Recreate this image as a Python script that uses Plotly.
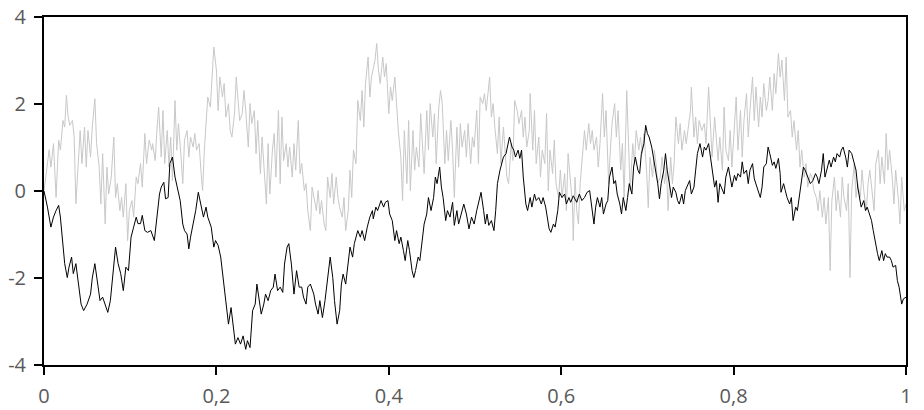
"""Two sample paths on [0, 1]: a smooth Brownian path (black) and a noisy one (grey)."""

import plotly.graph_objects as go

# ── Data ─────────────────────────────────────────────────────────────────────
black_t = [
    0.0, 0.004, 0.008, 0.011, 0.014, 0.017, 0.019, 0.022, 0.024, 0.027, 0.029, 0.032, 0.034, 0.037,
    0.040, 0.043, 0.046, 0.050, 0.054, 0.056, 0.059, 0.062, 0.065, 0.068, 0.071, 0.074, 0.077, 0.080,
    0.083, 0.086, 0.089, 0.092, 0.095, 0.098, 0.101, 0.104, 0.107, 0.109, 0.112, 0.114, 0.117, 0.120,
    0.124, 0.128, 0.131, 0.134, 0.136, 0.139, 0.141, 0.144, 0.146, 0.149, 0.152, 0.155, 0.158, 0.161,
    0.163, 0.166, 0.168, 0.170, 0.173, 0.176, 0.179, 0.182, 0.185, 0.188, 0.190, 0.194, 0.197, 0.199,
    0.202, 0.205, 0.208, 0.211, 0.214, 0.217, 0.220, 0.222, 0.225, 0.228, 0.231, 0.234, 0.236, 0.239,
    0.242, 0.245, 0.247, 0.249, 0.252, 0.255, 0.257, 0.260, 0.263, 0.266, 0.268, 0.271, 0.274, 0.277,
    0.279, 0.282, 0.284, 0.287, 0.290, 0.293, 0.296, 0.299, 0.301, 0.304, 0.306, 0.309, 0.313, 0.315,
    0.318, 0.320, 0.323, 0.326, 0.329, 0.332, 0.335, 0.337, 0.340, 0.343, 0.345, 0.347, 0.350, 0.353,
    0.355, 0.358, 0.360, 0.364, 0.367, 0.369, 0.372, 0.375, 0.378, 0.381, 0.382, 0.385, 0.387, 0.391,
    0.394, 0.396, 0.399, 0.401, 0.404, 0.407, 0.409, 0.412, 0.414, 0.417, 0.419, 0.422, 0.424, 0.427,
    0.429, 0.431, 0.434, 0.436, 0.439, 0.441, 0.444, 0.446, 0.449, 0.452, 0.454, 0.456, 0.459, 0.461,
    0.463, 0.466, 0.468, 0.471, 0.474, 0.476, 0.479, 0.481, 0.484, 0.487, 0.490, 0.493, 0.496, 0.499,
    0.502, 0.504, 0.507, 0.510, 0.512, 0.514, 0.516, 0.519, 0.522, 0.524, 0.526, 0.529, 0.531, 0.533,
    0.536, 0.538, 0.540, 0.543, 0.545, 0.547, 0.550, 0.552, 0.554, 0.556, 0.559, 0.561, 0.564, 0.566,
    0.569, 0.571, 0.574, 0.577, 0.579, 0.582, 0.584, 0.586, 0.588, 0.591, 0.593, 0.596, 0.598, 0.601,
    0.604, 0.606, 0.609, 0.611, 0.614, 0.618, 0.621, 0.624, 0.627, 0.630, 0.633, 0.636, 0.638, 0.640,
    0.642, 0.645, 0.647, 0.649, 0.652, 0.654, 0.656, 0.659, 0.661, 0.663, 0.665, 0.668, 0.670, 0.672,
    0.675, 0.677, 0.679, 0.682, 0.684, 0.686, 0.689, 0.691, 0.693, 0.696, 0.698, 0.700, 0.702, 0.705,
    0.707, 0.709, 0.712, 0.714, 0.716, 0.719, 0.721, 0.723, 0.726, 0.728, 0.730, 0.733, 0.735, 0.737,
    0.740, 0.742, 0.744, 0.747, 0.749, 0.751, 0.754, 0.756, 0.758, 0.761, 0.764, 0.766, 0.768, 0.771,
    0.773, 0.775, 0.778, 0.780, 0.782, 0.784, 0.787, 0.789, 0.791, 0.794, 0.796, 0.798, 0.801, 0.803,
    0.805, 0.808, 0.810, 0.812, 0.815, 0.817, 0.819, 0.822, 0.824, 0.826, 0.829, 0.831, 0.833, 0.835,
    0.838, 0.840, 0.842, 0.845, 0.847, 0.849, 0.852, 0.854, 0.855, 0.858, 0.860, 0.862, 0.865, 0.867,
    0.869, 0.872, 0.874, 0.876, 0.879, 0.881, 0.883, 0.886, 0.889, 0.892, 0.895, 0.897, 0.899, 0.902,
    0.904, 0.906, 0.909, 0.911, 0.913, 0.916, 0.918, 0.920, 0.923, 0.925, 0.927, 0.930, 0.932, 0.934,
    0.937, 0.939, 0.942, 0.944, 0.946, 0.948, 0.951, 0.953, 0.955, 0.958, 0.960, 0.962, 0.964, 0.967,
    0.969, 0.972, 0.974, 0.976, 0.978, 0.981, 0.983, 0.985, 0.988, 0.990, 0.992, 0.995, 0.997, 1.0,
]
black_v = [
    0.0, -0.37, -0.83, -0.60, -0.45, -0.33, -0.60, -1.21, -1.67, -1.99, -1.75, -1.52, -1.90, -1.67,
    -2.13, -2.60, -2.75, -2.60, -2.37, -2.00, -1.67, -2.13, -2.52, -2.44, -2.60, -2.79, -2.52, -1.90,
    -1.29, -1.67, -1.90, -2.29, -1.75, -1.83, -1.06, -0.83, -0.60, -0.75, -0.75, -0.56, -0.91, -0.95,
    -0.91, -1.14, -0.60, -0.07, 0.09, 0.20, -0.18, -0.15, 0.63, 0.78, 0.32, 0.01, -0.22, -0.76,
    -0.91, -0.99, -1.33, -1.06, -0.76, -0.45, -0.03, -0.30, -0.60, -0.37, -0.60, -0.83, -1.29, -1.14,
    -1.25, -1.52, -1.99, -2.52, -3.06, -2.68, -3.21, -3.52, -3.37, -3.52, -3.33, -3.64, -3.44, -3.60,
    -2.75, -2.60, -2.14, -2.44, -2.83, -2.60, -2.37, -2.52, -2.29, -2.21, -1.91, -2.29, -2.21, -2.33,
    -1.68, -1.29, -1.21, -1.68, -2.37, -1.83, -2.21, -2.21, -2.44, -2.60, -2.21, -2.14, -2.37, -2.60,
    -2.83, -2.52, -2.91, -2.52, -2.06, -1.52, -1.99, -2.52, -3.06, -2.75, -2.14, -1.91, -2.14, -1.68,
    -1.29, -1.52, -1.21, -0.91, -1.06, -0.91, -1.14, -0.83, -0.60, -0.45, -0.64, -0.37, -0.45, -0.22,
    -0.37, -0.26, -0.22, -0.53, -0.68, -1.14, -0.91, -1.21, -1.06, -1.37, -1.60, -1.14, -1.37, -1.83,
    -1.99, -1.83, -1.52, -1.60, -1.14, -0.76, -0.53, -0.15, -0.45, -0.15, 0.32, 0.17, 0.55, 0.09,
    -0.15, -0.68, -0.45, -0.60, -0.26, -0.79, -0.45, -0.76, -0.53, -0.30, -0.53, -0.87, -0.60, -0.76,
    -0.45, -0.30, -0.03, -0.45, -0.76, -0.53, -0.79, -0.68, -0.91, -0.45, 0.17, 0.48, 0.63, 0.78,
    0.86, 1.09, 1.24, 1.01, 0.94, 0.78, 0.94, 0.75, 0.94, 0.32, -0.30, -0.45, -0.15, -0.37,
    -0.07, -0.22, -0.15, -0.30, -0.15, -0.37, -0.68, -0.87, -0.95, -0.76, -0.83, -0.45, -0.03, -0.15,
    -0.07, -0.30, -0.15, -0.26, -0.11, -0.26, -0.07, -0.22, -0.15, -0.03, 0.01, -0.53, -0.76, -0.37,
    -0.15, -0.37, -0.15, -0.53, -0.30, -0.22, 0.32, 0.55, 0.17, 0.24, -0.07, -0.30, -0.53, -0.15,
    -0.45, -0.15, 0.17, -0.07, 0.55, 0.78, 0.48, 0.40, 0.86, 1.09, 1.51, 1.32, 1.24, 1.01,
    0.78, 0.48, 0.17, -0.18, 0.17, 0.48, 0.86, 0.48, 0.09, -0.15, 0.09, -0.03, -0.22, -0.30,
    -0.07, -0.30, 0.01, 0.17, 0.24, -0.07, 0.09, 0.48, 0.86, 1.09, 0.78, 1.01, 0.94, 1.09,
    0.78, 0.48, 0.09, 0.24, -0.26, 0.17, 0.01, -0.07, 0.32, 0.55, 0.32, 0.09, 0.36, 0.24,
    0.40, 0.32, 0.67, 0.40, 0.48, 0.17, 0.48, 0.63, 0.28, 0.17, 0.01, -0.15, 0.09, 0.55,
    0.63, 1.01, 0.86, 0.59, 0.67, 0.52, 0.75, 0.40, -0.03, 0.17, 0.01, -0.15, -0.30, -0.15,
    -0.68, -0.37, -0.45, -0.15, 0.32, 0.55, 0.48, 0.32, 0.17, 0.24, 0.40, 0.32, 0.17, 0.48,
    0.86, 0.32, 0.55, 0.71, 0.55, 0.78, 0.67, 0.86, 0.78, 0.94, 1.01, 0.78, 0.55, 0.94,
    0.86, 0.71, 0.48, 0.09, -0.15, -0.37, -0.22, -0.45, -0.37, -0.53, -0.68, -0.91, -1.14, -1.44,
    -1.60, -1.37, -1.60, -1.44, -1.52, -1.52, -1.60, -1.75, -1.71, -2.06, -2.21, -2.60, -2.48, -2.44,
]

grey_t = [
    0.0, 0.004, 0.006, 0.008, 0.011, 0.014, 0.017, 0.019, 0.022, 0.024, 0.026, 0.028, 0.030, 0.033,
    0.035, 0.037, 0.040, 0.042, 0.044, 0.047, 0.049, 0.051, 0.054, 0.056, 0.059, 0.061, 0.064, 0.066,
    0.068, 0.071, 0.073, 0.075, 0.078, 0.081, 0.083, 0.085, 0.088, 0.090, 0.092, 0.095, 0.097, 0.099,
    0.102, 0.104, 0.107, 0.109, 0.112, 0.114, 0.117, 0.119, 0.122, 0.125, 0.126, 0.129, 0.131, 0.133,
    0.136, 0.138, 0.140, 0.143, 0.145, 0.147, 0.149, 0.152, 0.154, 0.156, 0.159, 0.161, 0.163, 0.166,
    0.168, 0.170, 0.173, 0.175, 0.177, 0.180, 0.182, 0.184, 0.186, 0.188, 0.190, 0.193, 0.195, 0.197,
    0.200, 0.202, 0.204, 0.207, 0.209, 0.211, 0.214, 0.216, 0.218, 0.221, 0.223, 0.225, 0.227, 0.230,
    0.232, 0.234, 0.237, 0.239, 0.241, 0.244, 0.246, 0.248, 0.251, 0.253, 0.256, 0.258, 0.260, 0.262,
    0.265, 0.267, 0.269, 0.272, 0.274, 0.276, 0.278, 0.281, 0.283, 0.285, 0.288, 0.290, 0.292, 0.295,
    0.297, 0.299, 0.302, 0.304, 0.306, 0.309, 0.311, 0.313, 0.316, 0.318, 0.320, 0.322, 0.325, 0.327,
    0.329, 0.332, 0.334, 0.336, 0.339, 0.341, 0.343, 0.346, 0.348, 0.350, 0.353, 0.355, 0.357, 0.359,
    0.362, 0.364, 0.367, 0.369, 0.371, 0.373, 0.376, 0.378, 0.380, 0.384, 0.386, 0.388, 0.390, 0.393,
    0.395, 0.397, 0.400, 0.402, 0.404, 0.407, 0.409, 0.411, 0.414, 0.416, 0.418, 0.421, 0.423, 0.425,
    0.428, 0.430, 0.432, 0.435, 0.437, 0.439, 0.441, 0.444, 0.446, 0.448, 0.451, 0.453, 0.455, 0.458,
    0.460, 0.462, 0.465, 0.467, 0.469, 0.472, 0.474, 0.476, 0.479, 0.481, 0.483, 0.485, 0.488, 0.490,
    0.492, 0.495, 0.497, 0.499, 0.502, 0.504, 0.506, 0.509, 0.511, 0.513, 0.516, 0.517, 0.519, 0.521,
    0.523, 0.526, 0.528, 0.530, 0.533, 0.535, 0.537, 0.539, 0.542, 0.544, 0.546, 0.549, 0.551, 0.554,
    0.556, 0.558, 0.560, 0.563, 0.564, 0.567, 0.569, 0.571, 0.574, 0.576, 0.578, 0.581, 0.583, 0.585,
    0.587, 0.590, 0.592, 0.594, 0.597, 0.599, 0.601, 0.604, 0.606, 0.608, 0.611, 0.613, 0.614, 0.616,
    0.618, 0.620, 0.622, 0.625, 0.627, 0.629, 0.632, 0.634, 0.636, 0.638, 0.641, 0.643, 0.645, 0.648,
    0.650, 0.652, 0.655, 0.657, 0.659, 0.662, 0.664, 0.666, 0.669, 0.671, 0.673, 0.676, 0.678, 0.680,
    0.683, 0.685, 0.687, 0.690, 0.692, 0.694, 0.696, 0.699, 0.701, 0.703, 0.706, 0.708, 0.710, 0.712,
    0.715, 0.717, 0.720, 0.722, 0.724, 0.727, 0.729, 0.731, 0.733, 0.736, 0.738, 0.740, 0.743, 0.745,
    0.747, 0.750, 0.751, 0.754, 0.756, 0.758, 0.760, 0.763, 0.766, 0.768, 0.771, 0.773, 0.775, 0.778,
    0.780, 0.782, 0.784, 0.787, 0.789, 0.791, 0.794, 0.796, 0.798, 0.801, 0.803, 0.805, 0.808, 0.810,
    0.812, 0.815, 0.817, 0.819, 0.822, 0.824, 0.826, 0.829, 0.831, 0.833, 0.835, 0.838, 0.840, 0.842,
    0.845, 0.847, 0.849, 0.852, 0.854, 0.856, 0.859, 0.861, 0.863, 0.866, 0.868, 0.870, 0.873, 0.875,
    0.877, 0.879, 0.882, 0.884, 0.886, 0.889, 0.891, 0.893, 0.896, 0.898, 0.900, 0.903, 0.905, 0.907,
    0.910, 0.912, 0.914, 0.917, 0.919, 0.921, 0.924, 0.926, 0.928, 0.931, 0.933, 0.935, 0.937, 0.940,
    0.942, 0.944, 0.947, 0.949, 0.951, 0.954, 0.956, 0.958, 0.961, 0.963, 0.965, 0.968, 0.970, 0.972,
    0.975, 0.977, 0.979, 0.981, 0.984, 0.986, 0.988, 0.991, 0.993, 0.995, 0.998, 1.0,
]
grey_v = [
    0.0, 0.70, 0.95, 0.55, 1.09, -0.15, 1.17, 0.94, 1.62, 1.47, 2.20, 1.70, 1.51, 1.62,
    1.24, -0.29, 0.78, 1.39, 0.63, 1.47, 0.55, 1.39, 0.78, 1.47, 2.12, 1.09, 0.55, -0.30,
    0.86, -0.76, 0.55, -0.07, 0.32, 1.24, -0.15, 0.17, -0.45, -0.15, -0.60, 0.17, -1.14, -0.45,
    -0.22, -0.60, 0.32, 0.17, 0.63, 0.09, 1.32, 0.63, 1.17, 0.94, 1.09, 0.70, 1.39, 1.93,
    0.78, 1.85, 0.63, 1.39, 0.55, 1.24, 0.24, 2.08, 0.94, 1.55, 0.78, 0.17, 1.17, 1.39,
    0.78, 1.24, 1.01, 1.32, 0.94, 1.09, 0.48, 0.01, 0.94, 1.47, 2.16, 1.93, 2.62, 3.31,
    2.78, 1.85, 2.62, 2.16, 2.47, 1.70, 2.01, 1.39, 1.24, 1.78, 2.62, 2.01, 1.62, 1.78,
    2.31, 1.85, 1.01, 2.01, 1.55, 1.85, 0.86, 1.62, 0.40, 1.24, 0.32, -0.30, 1.09, -0.07,
    0.94, 1.32, 0.32, 1.85, 0.17, 1.70, 0.70, 1.09, 0.55, 1.01, 0.32, 1.09, 0.48, 1.62,
    0.40, 0.63, 0.01, 0.17, -0.45, -0.91, 0.09, -0.15, -0.45, 0.01, -0.53, -0.22, -0.76, -0.91,
    0.32, -0.15, 0.40, -0.30, 0.32, -0.15, -0.38, -0.60, -0.15, -0.91, -0.45, 0.48, -0.15, 0.94,
    0.63, 2.08, 1.62, 2.31, 1.47, 2.47, 3.08, 2.16, 2.62, 3.01, 3.39, 2.78, 2.47, 3.08,
    2.62, 2.93, 1.78, 2.39, 2.08, 2.62, 2.01, 1.39, 0.78, -0.22, 1.39, 0.17, 1.62, 0.01,
    1.39, 0.48, 1.01, 0.55, 1.78, 0.94, 0.40, 1.85, 0.94, 2.01, 1.24, 1.78, 0.63, 1.93,
    2.31, 2.01, 0.63, 1.39, 0.70, 1.62, 0.94, -0.15, 1.47, 0.55, 1.55, 1.01, 1.39, 0.78,
    1.55, 0.63, 1.24, 1.01, 1.85, 0.63, 2.16, 2.01, 2.24, 1.85, 2.47, 2.62, 1.70, 2.01,
    1.47, 0.86, 1.70, 0.63, 1.47, 0.78, 0.32, 0.17, 1.09, 0.70, 2.08, 1.85, 1.55, 1.85,
    1.24, 1.70, 1.01, 1.39, 2.24, 0.94, 1.85, 0.63, 1.24, 0.32, 0.94, 0.63, 1.78, 0.01,
    0.94, 0.40, 1.17, 0.17, -0.15, 0.48, -0.15, 0.40, -0.45, 0.86, 0.17, -0.30, -1.14, 0.32,
    -0.45, -0.76, 0.17, 0.94, 1.39, 0.94, 1.55, 1.09, 1.39, 0.94, 1.24, 0.55, 1.09, 2.24,
    1.24, 1.85, 0.17, 0.94, 1.55, 2.01, 1.24, 1.85, 0.48, 1.09, -0.15, 2.31, 0.94, 0.01,
    1.09, 0.63, 1.39, 0.94, 1.24, 0.86, 1.32, 0.48, -0.38, 0.78, 0.32, 0.94, 0.63, 0.17,
    0.32, 0.78, 0.17, 0.55, -0.45, 0.78, 0.17, 0.63, 1.70, 1.09, 1.55, 0.94, 1.39, 1.09,
    1.39, 1.85, 2.39, 1.24, 1.70, 1.09, 1.62, 1.39, 1.55, 1.09, 2.39, 1.55, 0.78, 1.70,
    1.09, 0.70, 1.24, 0.48, 1.93, 0.94, 0.70, 1.39, 0.55, 1.47, 2.16, 0.94, 1.85, 0.78,
    1.62, 2.24, 1.24, 1.85, 2.62, 1.62, 2.39, 1.47, 2.16, 1.70, 2.47, 1.85, 2.08, 2.62,
    1.85, 2.70, 2.24, 3.16, 2.62, 3.01, 2.08, 3.08, 1.70, 1.85, 1.24, 1.62, 0.94, 1.39,
    0.55, 0.94, 0.32, 0.63, 0.09, 0.40, 0.32, 0.01, -0.15, -0.45, 0.01, -0.60, -0.15, -0.76,
    -0.15, -1.83, -0.22, 0.32, -0.45, 0.01, -0.60, 0.32, -0.15, -0.45, 0.17, -1.99, 0.01, 0.63,
    -0.15, 0.17, -0.15, 0.48, 0.01, -0.45, 0.17, 0.48, -0.15, -0.45, 0.63, 0.94, 0.17, 0.78,
    0.17, 1.32, 0.48, 0.94, 0.32, -0.30, 0.48, -0.15, -0.76, 0.32, -0.45, -0.30,
]

x_tickvals = [0, 0.2, 0.4, 0.6, 0.8, 1]
x_ticktext = ["0", "0,2", "0,4", "0,6", "0,8", "1"]
y_tickvals = [-4, -2, 0, 2, 4]
y_ticktext = ["-4", "-2", "0", "2", "4"]

COLORS = {
    "smooth": "#000000",
    "noisy": "#c8c8c8",
    "axis": "#000000",
    "label": "#595959",
}

fig = go.Figure()

fig.add_trace(go.Scatter(
    x=grey_t, y=grey_v,
    mode="lines",
    line={"color": COLORS["noisy"], "width": 1},
    showlegend=False,
))
fig.add_trace(go.Scatter(
    x=black_t, y=black_v,
    mode="lines",
    line={"color": COLORS["smooth"], "width": 1},
    showlegend=False,
))

axis_common = dict(
    showgrid=False,
    zeroline=False,
    showline=True,
    linecolor=COLORS["axis"],
    linewidth=2,
    mirror=True,
    ticks="outside",
    ticklen=8,
    tickwidth=1.5,
    tickcolor=COLORS["axis"],
    automargin=False,
    tickfont={"family": "Open Sans", "size": 20, "color": COLORS["label"]},
)

fig.update_xaxes(range=[0, 1], tickvals=x_tickvals, ticktext=x_ticktext,
                 ticklabelstandoff=4, **axis_common)
fig.update_yaxes(range=[-4, 4], tickvals=y_tickvals, ticktext=y_ticktext,
                 ticklabelstandoff=4, **axis_common)

fig.update_layout(
    width=924,
    height=410,
    margin={"l": 44, "r": 18, "t": 17, "b": 45},
    plot_bgcolor="white",
    paper_bgcolor="white",
    showlegend=False,
)

# the page's default body margin would push the figure off its 924x410 frame
fig.write_html(
    "out.html",
    config={"displayModeBar": False},
    post_script="document.body.style.margin = '0';",
)
